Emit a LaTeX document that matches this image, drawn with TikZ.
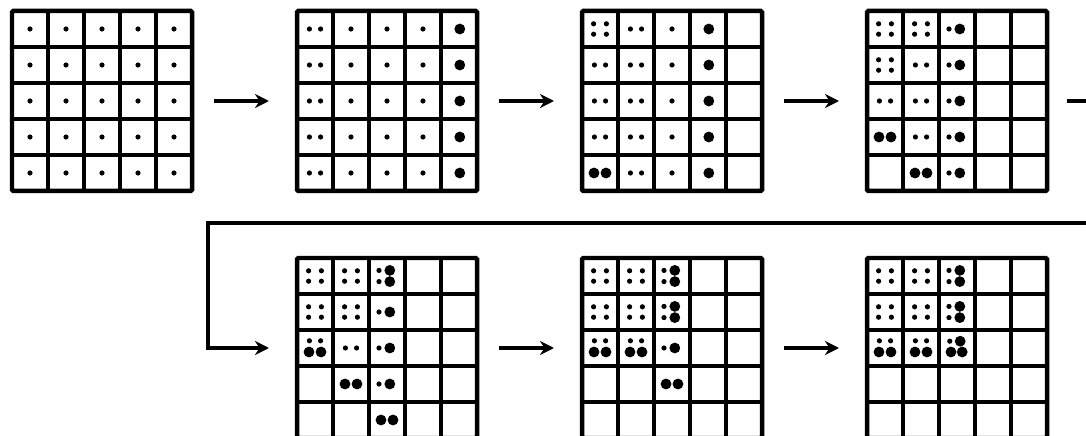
\documentclass[tikz,border=0pt]{standalone}
\usepackage{tikz}
\usetikzlibrary{arrows.meta, positioning}

\newcommand{\rsmall}{0.065}
\newcommand{\rbig}{0.135}
% dots in one cell, by code
\newcommand{\celldots}[1]{%
  \ifcase#1\relax
  \or \fill (0,0) circle (\rsmall);
  \or \fill (-0.14,0) circle (\rsmall) (0.14,0) circle (\rsmall);
  \or \fill (-0.16,0.13) circle (\rsmall) (0.16,0.13) circle (\rsmall)
            (-0.16,-0.13) circle (\rsmall) (0.16,-0.13) circle (\rsmall);
  \or \fill (0.02,0) circle (\rbig);
  \or \fill (-0.15,0) circle (\rbig) (0.15,0) circle (\rbig);
  \or \fill (-0.2,0) circle (\rsmall) (0.07,0) circle (\rbig);
  \or \fill (-0.2,0.14) circle (\rsmall) (-0.2,-0.14) circle (\rsmall)
            (0.07,0.14) circle (\rbig) (0.07,-0.14) circle (\rbig);
  \or \fill (-0.14,0.18) circle (\rsmall) (0.14,0.18) circle (\rsmall)
            (-0.15,-0.1) circle (\rbig) (0.15,-0.1) circle (\rbig);
  \or \fill (-0.18,0.17) circle (\rsmall) (0.08,0.17) circle (\rbig)
            (-0.15,-0.1) circle (\rbig) (0.13,-0.1) circle (\rbig);
  \fi}
% one 5x5 panel: name, centre, rows of codes
\newcommand{\gridpanel}[3]{%
  \node[panel] (#1) at (#2) {};
  \begin{scope}[shift={(#1.south west)}]
    \draw[cellline] (0,0) grid[step=0.9] (4.5,4.5);
    \foreach \cells [count=\rowno] in {#3} {
      \foreach \code [count=\colno] in \cells {
        \begin{scope}[shift={(\colno*0.9-0.45, 4.95-\rowno*0.9)}]
          \celldots{\code}
        \end{scope}
      }
    }
  \end{scope}}

\begin{document}
\begin{tikzpicture}[
    panel/.style={draw, line width=3.2pt, rounded corners=1pt, minimum size=4.5cm, inner sep=0pt, outer sep=0pt},
    cellline/.style={line width=2.6pt},
    flow/.style={line width=2.2pt, -{Stealth[length=10pt, width=10pt]}, shorten <=0.55cm, shorten >=0.7cm}]
  \useasboundingbox (0,0) rectangle (27.15,10.875);
  \clip (0,0) rectangle (27.15,10.875);
  % first row
  \gridpanel{g1}{2.55,8.35}{{1,1,1,1,1},{1,1,1,1,1},{1,1,1,1,1},{1,1,1,1,1},{1,1,1,1,1}}
  \gridpanel{g2}{9.675,8.35}{{2,1,1,1,4},{2,1,1,1,4},{2,1,1,1,4},{2,1,1,1,4},{2,1,1,1,4}}
  \gridpanel{g3}{16.8,8.35}{{3,2,1,4,0},{2,2,1,4,0},{2,2,1,4,0},{2,2,1,4,0},{5,2,1,4,0}}
  \gridpanel{g4}{23.925,8.35}{{3,3,6,0,0},{3,2,6,0,0},{2,2,6,0,0},{5,2,6,0,0},{0,5,6,0,0}}
  % second row
  \gridpanel{g5}{9.675,2.175}{{3,3,7,0,0},{3,3,6,0,0},{8,2,6,0,0},{0,5,6,0,0},{0,0,5,0,0}}
  \gridpanel{g6}{16.8,2.175}{{3,3,7,0,0},{3,3,7,0,0},{8,8,6,0,0},{0,0,5,0,0},{0,0,0,0,0}}
  \gridpanel{g7}{23.925,2.175}{{3,3,7,0,0},{3,3,7,0,0},{8,8,9,0,0},{0,0,0,0,0},{0,0,0,0,0}}
  % arrows
  \draw[flow] (g1) -- (g2);
  \draw[flow] (g2) -- (g3);
  \draw[flow] (g3) -- (g4);
  \draw[flow] (g5) -- (g6);
  \draw[flow] (g6) -- (g7);
  % return line
  \coordinate (edge) at (27.6,8.35);
  \coordinate (back) at (5.2,5.3);
  \draw[flow, line cap=rect] (g4) -- (edge) |- (back) |- (g5);
\end{tikzpicture}
\end{document}
